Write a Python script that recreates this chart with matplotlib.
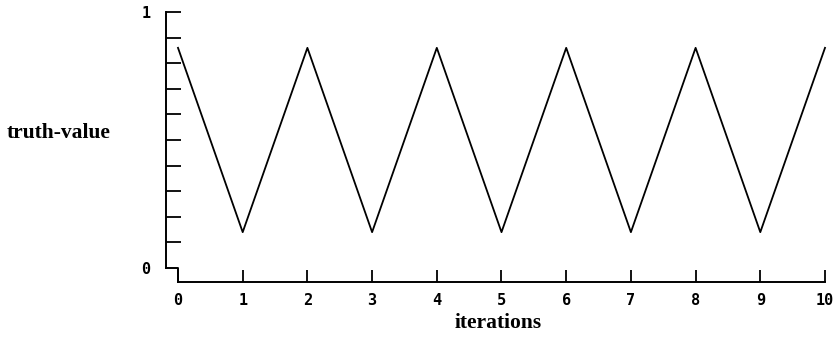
import matplotlib
matplotlib.use("Agg")
import matplotlib.pyplot as plt
import numpy as np

iterations = [0, 1, 2, 3, 4, 5, 6, 7, 8, 9, 10]
truth_value = [0.86, 0.14, 0.86, 0.14, 0.86, 0.14, 0.86, 0.14, 0.86, 0.14, 0.86]
x_tick_labels = ["0", "1", "2", "3", "4", "5", "6", "7", "8", "9", "10"]
y_tick_values = [0, 1]
y_tick_labels = ["0", "1"]

W, H = 837, 337
fig = plt.figure(figsize=(W / 100, H / 100), dpi=100)
left_px, right_px, top_px, bottom_px = 166, 825, 12, 282
ax = fig.add_axes([left_px / W, 1 - bottom_px / H, (right_px - left_px) / W, (bottom_px - top_px) / H])

xpx_per_unit = (825 - 178) / 10.0
xmin = -(178 - 166) / xpx_per_unit
ypx_per_unit = (268 - 12) / 1.0
ymin = -(282 - 268) / ypx_per_unit
ax.set_xlim(xmin, 10)
ax.set_ylim(ymin, 1)

ax.plot(iterations, truth_value, color="black", lw=1.3, clip_on=False)

for s in ["top", "right"]:
    ax.spines[s].set_visible(False)
ax.spines["left"].set_bounds(0, 1)
ax.spines["bottom"].set_bounds(0, 10)
for s in ["left", "bottom"]:
    ax.spines[s].set_linewidth(1.4)

# step connecting y-axis foot to x-axis start
ax.plot([xmin, 0, 0], [0, 0, ymin], color="black", lw=1.4, clip_on=False)

mono = dict(family="DejaVu Sans Mono", weight="bold", size=11)
ax.set_xticks(iterations)
ax.set_xticklabels(x_tick_labels, fontdict=mono)
ax.tick_params(axis="x", direction="in", length=9, width=1.3, pad=8)
ax.set_yticks(y_tick_values)
ax.set_yticklabels(y_tick_labels, fontdict=mono)
ax.set_yticks(np.arange(0.1, 1.0, 0.1), minor=True)
ax.tick_params(axis="y", which="both", direction="in", length=11, width=1.3, pad=11)
ax.yaxis.get_major_ticks()[0].tick1line.set_visible(False)

serif = dict(family="Liberation Serif", weight="bold", size=15.5)
fig.text(7 / W, 1 - 133 / H, "truth-value", ha="left", va="center", **serif)
fig.text(498 / W, 1 - 323 / H, "iterations", ha="center", va="center", **serif)

fig.savefig("out.png", dpi=100)
